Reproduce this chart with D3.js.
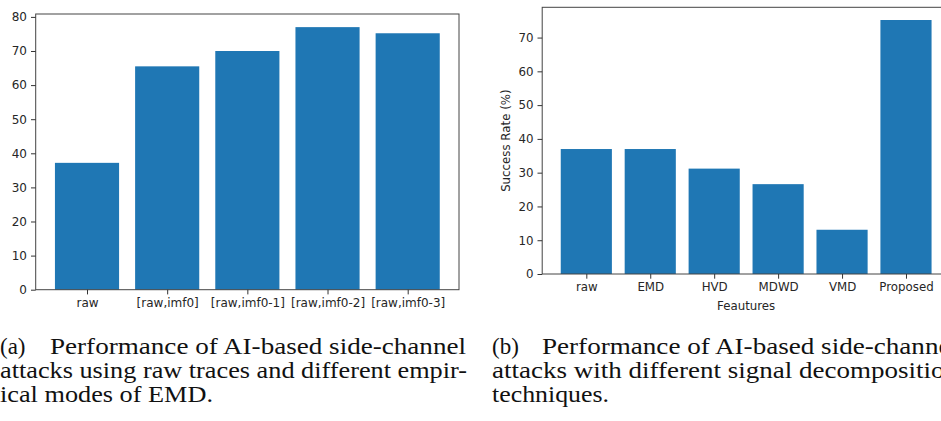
<!DOCTYPE html>
<html>
<head>
<meta charset="utf-8">
<script src="https://cdn.jsdelivr.net/npm/d3@7"></script>
<style>
  body { margin: 0; background: #fff; }
  svg { display: block; }
  .tick text { font-family: "DejaVu Sans", sans-serif; fill: #262626; }
  .tick line { stroke: #333; }
</style>
</head>
<body>
<svg id="chart" width="941" height="421"></svg>
<script>
// (a) raw traces + EMD modes
const leftCategories = ['raw', '[raw,imf0]', '[raw,imf0-1]', '[raw,imf0-2]', '[raw,imf0-3]'];
const leftValues = [37.2, 65.5, 70.0, 77.0, 75.2];
const leftTicks = [0, 10, 20, 30, 40, 50, 60, 70, 80];

// (b) decomposition techniques
const rightCategories = ['raw', 'EMD', 'HVD', 'MDWD', 'VMD', 'Proposed'];
const rightValues = [37.0, 37.0, 31.2, 26.6, 13.1, 75.2];
const rightTicks = [0, 10, 20, 30, 40, 50, 60, 70];

const captionA = ['Performance of AI-based side-channel', 'attacks using raw traces and different empir-', 'ical modes of EMD.'];
const captionB = ['Performance of AI-based side-channel', 'attacks with different signal decomposition', 'techniques.'];

const svg = d3.select('#chart');
const blue = '#1f77b4';

function barChart(cfg) {
  const g = svg.append('g');
  const n = cfg.categories.length;
  // matplotlib-like 5% margins
  const x = d3.scaleLinear()
      .domain([-0.4 - 0.05 * (n - 0.2), n - 0.6 + 0.05 * (n - 0.2)])
      .range([cfg.left, cfg.right]);
  const y = d3.scaleLinear()
      .domain([0, d3.max(cfg.values) * 1.05])
      .range([cfg.bottom, cfg.top]);

  // bars
  g.append('g').selectAll('rect')
      .data(cfg.values)
      .enter()
      .append('rect')
      .attr('x', (d, i) => x(i - 0.4))
      .attr('width', x(0.8) - x(0))
      .attr('y', d => y(d))
      .attr('height', d => y(0) - y(d))
      .attr('fill', blue);

  // frame
  g.append('rect')
      .attr('x', cfg.left)
      .attr('y', cfg.top)
      .attr('width', cfg.right - cfg.left)
      .attr('height', cfg.bottom - cfg.top)
      .attr('fill', 'none')
      .attr('stroke', '#444')
      .attr('stroke-width', 1);

  const xAxis = g.append('g')
      .attr('transform', `translate(0,${cfg.bottom})`)
      .call(d3.axisBottom(x)
          .tickValues(d3.range(n))
          .tickFormat(i => cfg.categories[i])
          .tickSize(4.7).tickSizeOuter(0).tickPadding(4));
  xAxis.select('.domain').remove();
  xAxis.selectAll('text').style('font-size', cfg.fontSize + 'px');

  const yAxis = g.append('g')
      .attr('transform', `translate(${cfg.left},0)`)
      .call(d3.axisLeft(y)
          .tickValues(cfg.ticks)
          .tickSize(4.7).tickSizeOuter(0).tickPadding(4));
  yAxis.select('.domain').remove();
  yAxis.selectAll('text').style('font-size', cfg.fontSize + 'px');

  if (cfg.xLabel) {
    g.append('text')
        .text(cfg.xLabel)
        .attr('x', (cfg.left + cfg.right) / 2)
        .attr('y', cfg.bottom + 35.5)
        .attr('text-anchor', 'middle')
        .style('font-family', '"DejaVu Sans", sans-serif')
        .style('font-size', cfg.fontSize + 'px')
        .attr('fill', '#262626');
  }
  if (cfg.yLabel) {
    g.append('text')
        .text(cfg.yLabel)
        .attr('transform', `translate(${cfg.left - 32},${(cfg.top + cfg.bottom) / 2}) rotate(-90)`)
        .attr('text-anchor', 'middle')
        .style('font-family', '"DejaVu Sans", sans-serif')
        .style('font-size', cfg.fontSize + 'px')
        .attr('fill', '#262626');
  }
}

barChart({
  categories: leftCategories, values: leftValues, ticks: leftTicks,
  left: 35.7, right: 459, top: 14, bottom: 289.7, fontSize: 12
});

barChart({
  categories: rightCategories, values: rightValues, ticks: rightTicks,
  left: 542.2, right: 950.1, top: 7.3, bottom: 274, fontSize: 11.8,
  xLabel: 'Feautures', yLabel: 'Success Rate (%)'
});

// captions (LaTeX subcaption style)
function caption(x0, tag, lines, widths) {
  const c = svg.append('g').style('font-family', '"Liberation Serif", "Times New Roman", serif')
      .style('font-size', '23px').attr('fill', '#111');
  c.append('text').text(tag).attr('x', x0).attr('y', 354);
  lines.forEach((t, i) => {
    c.append('text')
        .text(t)
        .attr('x', x0 + (i === 0 ? 50 : 0))
        .attr('y', 354 + 24 * i)
        .attr('textLength', widths[i])
        .attr('lengthAdjust', 'spacingAndGlyphs');
  });
}
caption(0, '(a)', captionA, [416, 467, 213]);
caption(492, '(b)', captionB, [416, 466, 117]);
</script>
</body>
</html>
